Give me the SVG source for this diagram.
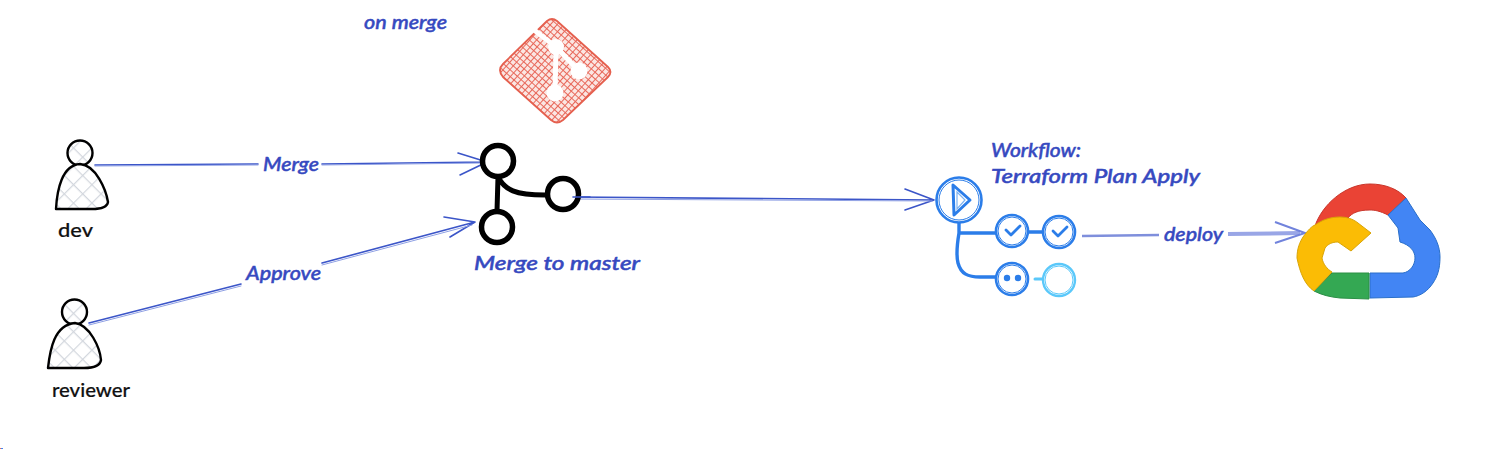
<svg xmlns="http://www.w3.org/2000/svg" width="1494" height="449" viewBox="0 0 1494 449">
<style>
text{font-family:"Lato","Open Sans","DejaVu Sans",sans-serif;font-size:20px;font-style:italic;font-weight:500}
.lbl{fill:#3649c0;stroke:#3649c0;stroke-width:.5}
.who{fill:#111;font-style:normal;stroke:#111;stroke-width:.2}
.edge{fill:none;stroke:#3b55c8;stroke-width:1.6;stroke-linecap:round;stroke-linejoin:round}
.edge2{fill:none;stroke:#8fa0e4;stroke-width:1;stroke-linecap:round}
.body{fill:url(#grey);stroke:#000;stroke-width:2.4;stroke-linejoin:round}
.git{fill:#fff;stroke:#000;stroke-width:5.5}
.gitl{fill:none;stroke:#000;stroke-width:5;stroke-linecap:round}
.wf{fill:#fff;stroke:#2b7de9;stroke-width:2.6}
.wf2{fill:none;stroke:#2b7de9;stroke-width:1}
.wfl{fill:none;stroke:#2b7de9;stroke-width:3.4;stroke-linecap:round}
</style>
<defs>
<pattern id="grey" width="13" height="13" patternUnits="userSpaceOnUse" patternTransform="rotate(45)">
<rect width="13" height="13" fill="#fff"/>
<path d="M0 0H13M0 0V13" stroke="#d3d7de" stroke-width="2.4"/>
</pattern>
<pattern id="red" width="5" height="5" patternUnits="userSpaceOnUse" patternTransform="rotate(42)">
<rect width="5" height="5" fill="#fbe6e2"/>
<path d="M0 0H5M0 0V5" stroke="#e8685a" stroke-width="2"/>
</pattern>
</defs>

<g id="connectors">
<path class="edge" d="M95 165L258 164"/><path class="edge2" d="M95 166L258 165"/>
<path class="edge" d="M322 164L487 162M458 153L487 162L460 175"/><path class="edge2" d="M322 165L485 163"/>
<path class="edge" d="M89 323L241 284"/><path class="edge2" d="M89 325L241 286"/>
<path class="edge" d="M322 263L475 222M444 217L475 222L450 237"/><path class="edge2" d="M322 265L472 225"/>
<path class="edge" d="M573 197L934 200M905 189L934 200L905 210"/><path class="edge2" d="M573 199L932 201"/>
<path d="M1082 236L1159 235" fill="none" stroke="#7f8fdc" stroke-width="2.6"/>
<path d="M1228 234L1300 233" fill="none" stroke="#99a6e6" stroke-width="4"/>
<path d="M1275 222L1305 233L1275 243" fill="none" stroke="#7183dc" stroke-width="2"/>
</g>

<g id="dev">
<circle class="body" cx="80" cy="153" r="12.5"/>
<path class="body" d="M56 209C57 190 62 165 80 164C96 165 106 190 108 202C107 208 100 209 92 209Z"/>
<text class="who" x="58" y="237" textLength="35" lengthAdjust="spacingAndGlyphs">dev</text>
</g>

<g id="reviewer">
<circle class="body" cx="74.500" cy="312" r="12.500"/>
<path class="body" d="M48 368C50 350 54 325 75 323C90 325 100 348 101 360C100 367 92 368 84 368Z"/>
<text class="who" x="52" y="397" textLength="78" lengthAdjust="spacingAndGlyphs">reviewer</text>
</g>

<g id="git-logo">
<path d="M503 64L547 21Q552 17 557 21L608 67Q613 72 608 77L563 120Q557 125 551 120L503 77Q497 70 503 64Z" fill="url(#red)" stroke="#e5604f" stroke-width="1.8" stroke-linejoin="round"/>
<path d="M529 26L556 47L579 71M556 47L555 93" fill="none" stroke="#fff" stroke-width="5"/>
<circle cx="556" cy="47" r="8" fill="#fff"/>
<circle cx="579" cy="71" r="8.500" fill="#fff"/>
<circle cx="555" cy="93" r="8.500" fill="#fff"/>
</g>

<g id="merge-node">
<path class="gitl" d="M498 177L497 211M498 177C505 190 515 195 545 195"/>
<circle class="git" cx="498" cy="161" r="15.500"/>
<circle class="git" cx="497" cy="227" r="15.500"/>
<circle class="git" cx="563" cy="194" r="15.500"/>
<path class="edge" d="M573 197L590 197"/>
<text class="lbl" x="474" y="270" textLength="166" lengthAdjust="spacingAndGlyphs">Merge to master</text>
</g>

<g id="workflow">
<path class="wfl" d="M959 223V233M959 233H997M1028 232H1043M959 233C957 245 956 255 958 263C961 274 968 277 980 277H995"/>
<path d="M1035 279H1043" fill="none" stroke="#5ac8fa" stroke-width="3" stroke-linecap="round"/>
<circle class="wf" cx="959" cy="200" r="22.500"/><circle class="wf2" cx="959" cy="200" r="20"/>
<path d="M953 185L970 200L954 215Z" fill="none" stroke="#2b7de9" stroke-width="3" stroke-linejoin="round"/>
<path d="M957 192L965 200L957 209Z" fill="none" stroke="#7cb2f2" stroke-width="1.200"/>
<circle class="wf" cx="1012" cy="231" r="16"/><circle class="wf2" cx="1012" cy="231" r="14"/>
<path d="M1006 230L1011 235L1020 226" fill="none" stroke="#2b7de9" stroke-width="2.800" stroke-linecap="round" stroke-linejoin="round"/>
<circle class="wf" cx="1059" cy="232" r="16"/><circle class="wf2" cx="1059" cy="232" r="14"/>
<path d="M1053 231L1058 236L1067 227" fill="none" stroke="#2b7de9" stroke-width="2.800" stroke-linecap="round" stroke-linejoin="round"/>
<circle class="wf" cx="1012" cy="279" r="16"/><circle class="wf2" cx="1012" cy="279" r="14"/>
<circle cx="1007" cy="278" r="3.200" fill="#2b7de9"/><circle cx="1018" cy="278" r="3.200" fill="#2b7de9"/>
<circle cx="1059" cy="280" r="16" fill="#fff" stroke="#5ac8fa" stroke-width="2.400"/><circle cx="1059" cy="280" r="14" fill="none" stroke="#5ac8fa"/>
<text class="lbl" x="991" y="157" textLength="90" lengthAdjust="spacingAndGlyphs">Workflow:</text>
<text class="lbl" x="991" y="183" textLength="209" lengthAdjust="spacingAndGlyphs">Terraform Plan Apply</text>
</g>

<g id="gcloud">
<path d="M1315 226C1322 205 1345 184 1370 184C1385 184 1398 189 1406 198L1388 215C1380 211 1375 210 1370 210C1358 210 1352 213 1348 218Z" fill="#ea4335" stroke="#c9362b"/>
<path d="M1406 198L1420 220L1430 230C1436 238 1440 247 1440 257C1440 270 1437 277 1433 283C1428 291 1420 296 1413 297L1370 298V273H1403C1410 272 1415 265 1415 258C1415 251 1410 245 1400 242L1398 228L1388 215Z" fill="#4285f4" stroke="#2a6fc9"/>
<path d="M1332 273L1369 273V299L1340 298C1330 297 1322 295 1314 291Z" fill="#34a853" stroke="#2a8f45"/>
<path d="M1314 291C1305 285 1300 273 1297 258C1297 248 1300 242 1303 237C1308 230 1312 226 1315 225C1322 220 1330 217 1340 217C1347 217 1353 219 1358 223L1371 233L1351 251L1338 242C1332 242 1328 244 1325 248L1322 258C1323 264 1327 269 1332 272Z" fill="#fbbc05" stroke="#d9a406"/>
</g>

<g id="labels">
<text class="lbl" x="364" y="29" textLength="83" lengthAdjust="spacingAndGlyphs">on merge</text>
<text class="lbl" x="263" y="171" textLength="56" lengthAdjust="spacingAndGlyphs">Merge</text>
<text class="lbl" x="246" y="280" textLength="75" lengthAdjust="spacingAndGlyphs">Approve</text>
<text class="lbl" x="1164" y="241" textLength="59" lengthAdjust="spacingAndGlyphs">deploy</text>
</g>

<rect x="0" y="448" width="1" height="1" fill="#e8685a"/><rect x="1" y="448" width="2" height="1" fill="#4285f4"/>
</svg>
